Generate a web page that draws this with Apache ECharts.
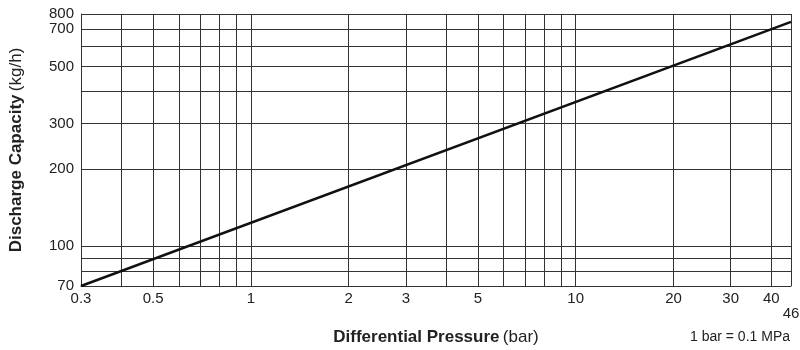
<!DOCTYPE html>
<html>
<head>
<meta charset="utf-8">
<script src="https://cdn.jsdelivr.net/npm/echarts@6/dist/echarts.min.js"></script>
<style>
  html, body { margin: 0; padding: 0; background: #fff; }
  #chart { width: 800px; height: 350px; }
</style>
</head>
<body>
<div id="chart"></div>
<script>
// pressure (bar) -> capacity (kg/h), straight line on log-log paper
const linePoints = [[0.3, 70], [46, 745]];

const xGrid = [0.3, 0.4, 0.5, 0.6, 0.7, 0.8, 0.9, 1, 2, 3, 4, 5, 6, 7, 8, 9, 10, 20, 30, 40, 46];
const xLabels = [0.3, 0.5, 1, 2, 3, 5, 10, 20, 30, 40, 46];
const yGrid = [70, 80, 90, 100, 200, 300, 400, 500, 600, 700, 800];
const yLabels = [70, 100, 200, 300, 500, 700, 800];

const font = 'Liberation Sans, Arial, sans-serif';
const gridColor = '#333';

const chart = echarts.init(document.getElementById('chart'));

chart.setOption({
  animation: false,
  backgroundColor: '#fff',
  textStyle: { fontFamily: font },
  grid: { left: 81, right: 9, top: 14, bottom: 64, containLabel: false, outerBoundsMode: 'none' },
  xAxis: {
    type: 'log',
    min: 0.3,
    max: 46,
    name: '{b|Differential Pressure} {n|(bar)}',
    nameLocation: 'middle',
    nameGap: 43,
    nameTextStyle: {
      rich: {
        b: { fontSize: 17, fontWeight: 'bold', color: '#222', fontFamily: font },
        n: { fontSize: 17, color: '#222', fontFamily: font }
      }
    },
    axisLine: { show: true, lineStyle: { color: gridColor, width: 1 } },
    axisTick: { show: false, customValues: xGrid },
    axisLabel: {
      customValues: xLabels,
      color: '#222',
      fontSize: 15,
      margin: 5,
      formatter: v => (v === 46 ? '\n46' : String(v))
    },
    splitLine: { show: true, lineStyle: { color: gridColor, width: 1 } }
  },
  yAxis: {
    type: 'log',
    min: 70,
    max: 800,
    name: '{b|Discharge Capacity} {n|(kg/h)}',
    nameLocation: 'middle',
    nameGap: 56,
    nameRotate: 90,
    nameTextStyle: {
      rich: {
        b: { fontSize: 17, fontWeight: 'bold', color: '#222', fontFamily: font },
        n: { fontSize: 17, color: '#222', fontFamily: font }
      }
    },
    axisLine: { show: true, lineStyle: { color: gridColor, width: 1 } },
    axisTick: { show: false, customValues: yGrid },
    axisLabel: {
      customValues: yLabels,
      color: '#222',
      fontSize: 15,
      margin: 7
    },
    splitLine: { show: true, lineStyle: { color: gridColor, width: 1 } }
  },
  graphic: [{
    type: 'text',
    right: 10,
    top: 330,
    style: { text: '1 bar = 0.1 MPa', fontSize: 14, fill: '#222', fontFamily: font }
  }],
  series: [{
    type: 'line',
    data: linePoints,
    symbol: 'none',
    lineStyle: { color: '#111', width: 2.5 }
  }]
});
</script>
</body>
</html>
